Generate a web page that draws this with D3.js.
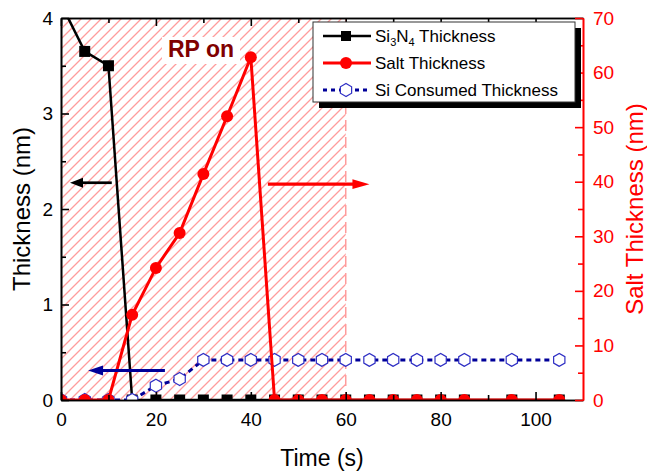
<!DOCTYPE html>
<html>
<head>
<meta charset="utf-8">
<script src="https://cdn.jsdelivr.net/npm/d3@7"></script>
<style>
  body { margin: 0; background: #fff; }
  svg text { font-family: "Liberation Sans", Arial, sans-serif; }
</style>
</head>
<body>
<svg id="chart" width="647" height="474"></svg>
<script>
// Sampling times (s)
const time = [0, 5, 10, 15, 20, 25, 30, 35, 40, 45, 50, 55, 60, 65, 70, 75, 80, 85, 95, 105];
// Si3N4 thickness (nm), left axis
const si3n4 = [4.15, 3.65, 3.5, 0, 0, 0, 0, 0, 0, 0, 0, 0, 0, 0, 0, 0, 0, 0, 0, 0];
// Salt thickness (nm), right axis
const salt = [0, 0, 0, 15.6, 24.2, 30.6, 41.4, 52, 62.8, 0, 0, 0, 0, 0, 0, 0, 0, 0, 0, 0];
// Si consumed thickness (nm), left axis
const siConsumed = [0, 0, 0, 0, 0.15, 0.22, 0.42, 0.42, 0.42, 0.42, 0.42, 0.42, 0.42, 0.42, 0.42, 0.42, 0.42, 0.42, 0.42, 0.42];

const xTicks = [0, 20, 40, 60, 80, 100];
const yLeftTicks = [0, 1, 2, 3, 4];
const yRightTicks = [0, 10, 20, 30, 40, 50, 60, 70];
const rpWindow = [0, 60];   // remote plasma on interval (s)

const legendItems = [
  { key: "si3n4", label: ["Si", "3", "N", "4", " Thickness"] },
  { key: "salt", label: ["Salt Thickness"] },
  { key: "si", label: ["Si Consumed Thickness"] }
];

const L = 61, R = 583, T = 18, B = 400;
const svg = d3.select("#chart");

const x = d3.scaleLinear().domain([0, 110]).range([L, R]);
const yL = d3.scaleLinear().domain([0, 4]).range([B, T]);
const yR = d3.scaleLinear().domain([0, 70]).range([B, T]);

const RED = "#ff0000", BLUE = "#000099", HEX = "#2f2fc4", HATCH = "#ff9c9c";

// diagonal hatch for the plasma-on window
const defs = svg.append("defs");
const pat = defs.append("pattern").attr("id", "hatch")
  .attr("patternUnits", "userSpaceOnUse").attr("width", 10).attr("height", 10);
pat.append("path")
  .attr("d", "M0,10 L10,0 M-2.5,2.5 L2.5,-2.5 M7.5,12.5 L12.5,7.5")
  .attr("stroke", HATCH).attr("stroke-width", 1.3);
defs.append("clipPath").attr("id", "plot")
  .append("rect").attr("x", L).attr("y", T).attr("width", R - L).attr("height", B - T);

svg.append("rect")
  .attr("x", x(rpWindow[0])).attr("y", T)
  .attr("width", x(rpWindow[1]) - x(rpWindow[0])).attr("height", B - T)
  .attr("fill", "url(#hatch)");
svg.append("line")
  .attr("x1", x(rpWindow[1])).attr("x2", x(rpWindow[1]))
  .attr("y1", T).attr("y2", B)
  .attr("stroke", HATCH).attr("stroke-width", 1.5).attr("stroke-dasharray", "11,6");

// "RP on" label on a white patch
svg.append("rect").attr("x", 162).attr("y", 37).attr("width", 78).attr("height", 27).attr("fill", "#fff");
svg.append("text").attr("x", 201).attr("y", 57).attr("text-anchor", "middle")
  .attr("font-size", 23).attr("font-weight", "bold").attr("fill", "#800000").text("RP on");

const plot = svg.append("g").attr("clip-path", "url(#plot)");

const hexPath = (r) => {
  const pts = d3.range(6).map(i => {
    const a = Math.PI / 2 + i * Math.PI / 3;
    return [r * Math.cos(a), r * Math.sin(a)];
  });
  return "M" + pts.map(p => p.join(",")).join("L") + "Z";
};

// Si3N4
plot.append("path").datum(time.map((t, i) => [t, si3n4[i]]))
  .attr("fill", "none").attr("stroke", "#000").attr("stroke-width", 2.5)
  .attr("d", d3.line().x(d => x(d[0])).y(d => yL(d[1])));
plot.selectAll(".sq").data(time.map((t, i) => [t, si3n4[i]])).join("rect")
  .attr("x", d => x(d[0]) - 5.5).attr("y", d => yL(d[1]) - 5.5)
  .attr("width", 11).attr("height", 11).attr("fill", "#000");

// Si consumed
plot.append("path").datum(time.map((t, i) => [t, siConsumed[i]]))
  .attr("fill", "none").attr("stroke", BLUE).attr("stroke-width", 3)
  .attr("stroke-dasharray", "5,4")
  .attr("d", d3.line().x(d => x(d[0])).y(d => yL(d[1])));
plot.selectAll(".hx").data(time.map((t, i) => [t, siConsumed[i]])).join("path")
  .attr("transform", d => `translate(${x(d[0])},${yL(d[1])})`)
  .attr("d", hexPath(6.5)).attr("fill", "#fff").attr("stroke", HEX).attr("stroke-width", 1.2);

// Salt
plot.append("path").datum(time.map((t, i) => [t, salt[i]]))
  .attr("fill", "none").attr("stroke", RED).attr("stroke-width", 3)
  .attr("d", d3.line().x(d => x(d[0])).y(d => yR(d[1])));
plot.selectAll(".ci").data(time.map((t, i) => [t, salt[i]])).join("circle")
  .attr("cx", d => x(d[0])).attr("cy", d => yR(d[1])).attr("r", 6).attr("fill", RED);

// arrows pointing to the axis each series belongs to
function arrow(x1, x2, yy, color, w, headLen, headHalf) {
  const dir = Math.sign(x2 - x1);
  svg.append("line").attr("x1", x1).attr("x2", x2 - dir * headLen * 0.8)
    .attr("y1", yy).attr("y2", yy).attr("stroke", color).attr("stroke-width", w);
  svg.append("path")
    .attr("d", `M${x2},${yy} L${x2 - dir * headLen},${yy - headHalf} L${x2 - dir * headLen},${yy + headHalf} Z`)
    .attr("fill", color);
}
arrow(x(10.7), x(1.9), yL(2.275), "#000", 2.7, 13, 5);
arrow(x(43.6), x(65), yL(2.26), RED, 3.2, 17, 4.8);
arrow(x(21.9), x(5.7), yL(0.31), BLUE, 3, 15, 5);

// axes
function styleAxis(g, color) {
  g.selectAll("path").attr("stroke", color).attr("stroke-width", 1.6);
  g.selectAll("line").attr("stroke", color).attr("stroke-width", 1.6);
  g.selectAll("text").attr("fill", color).attr("font-size", 19)
    .attr("font-family", "'Liberation Sans', Arial, sans-serif");
}
const minorX = d3.range(10, 110, 20);
const minorYL = d3.range(0.5, 4, 1);
const minorYR = d3.range(5, 70, 10);

// bottom
svg.append("g").attr("transform", `translate(0,${B})`)
  .call(d3.axisBottom(x).tickValues(xTicks).tickSize(-8).tickSizeOuter(0).tickPadding(13))
  .call(g => styleAxis(g, "#000"));
svg.append("g").attr("transform", `translate(0,${B})`)
  .call(d3.axisBottom(x).tickValues(minorX).tickSize(-5).tickSizeOuter(0).tickFormat(""))
  .call(g => styleAxis(g, "#000"));
// top
svg.append("g").attr("transform", `translate(0,${T})`)
  .call(d3.axisTop(x).tickValues(xTicks).tickSize(-8).tickSizeOuter(0).tickFormat(""))
  .call(g => styleAxis(g, "#000"));
svg.append("g").attr("transform", `translate(0,${T})`)
  .call(d3.axisTop(x).tickValues(minorX).tickSize(-5).tickSizeOuter(0).tickFormat(""))
  .call(g => styleAxis(g, "#000"));
// left
svg.append("g").attr("transform", `translate(${L},0)`)
  .call(d3.axisLeft(yL).tickValues(yLeftTicks).tickSize(-8).tickSizeOuter(0).tickPadding(8).tickFormat(d3.format("d")))
  .call(g => styleAxis(g, "#000"));
svg.append("g").attr("transform", `translate(${L},0)`)
  .call(d3.axisLeft(yL).tickValues(minorYL).tickSize(-5).tickSizeOuter(0).tickFormat(""))
  .call(g => styleAxis(g, "#000"));
// right
svg.append("g").attr("transform", `translate(${R},0)`)
  .call(d3.axisRight(yR).tickValues(yRightTicks).tickSize(-8).tickSizeOuter(0).tickPadding(10))
  .call(g => styleAxis(g, RED));
svg.append("g").attr("transform", `translate(${R},0)`)
  .call(d3.axisRight(yR).tickValues(minorYR).tickSize(-5).tickSizeOuter(0).tickFormat(""))
  .call(g => styleAxis(g, RED));

// axis titles
svg.append("text").attr("x", (L + R) / 2).attr("y", 466).attr("text-anchor", "middle")
  .attr("font-size", 23).attr("fill", "#000").text("Time (s)");
svg.append("text").attr("transform", `translate(30,${(T + B) / 2}) rotate(-90)`)
  .attr("text-anchor", "middle").attr("font-size", 24).attr("fill", "#000").text("Thickness (nm)");
svg.append("text").attr("transform", `translate(643,${(T + B) / 2}) rotate(-90)`)
  .attr("text-anchor", "middle").attr("font-size", 24).attr("fill", RED).text("Salt Thickness (nm)");

// legend
const lg = svg.append("g");
lg.append("rect").attr("x", 319).attr("y", 28).attr("width", 262).attr("height", 80).attr("fill", "#000");
lg.append("rect").attr("x", 313).attr("y", 22).attr("width", 262).attr("height", 80)
  .attr("fill", "#fff").attr("stroke", "#333").attr("stroke-width", 1);
legendItems.forEach((it, i) => {
  const yy = 36 + i * 27;
  const row = lg.append("g");
  if (it.key === "si3n4") {
    row.append("line").attr("x1", 323).attr("x2", 371).attr("y1", yy).attr("y2", yy)
      .attr("stroke", "#000").attr("stroke-width", 2.5);
    row.append("rect").attr("x", 341).attr("y", yy - 5).attr("width", 10).attr("height", 10).attr("fill", "#000");
  } else if (it.key === "salt") {
    row.append("line").attr("x1", 323).attr("x2", 371).attr("y1", yy).attr("y2", yy)
      .attr("stroke", RED).attr("stroke-width", 3);
    row.append("circle").attr("cx", 346).attr("cy", yy).attr("r", 6).attr("fill", RED);
  } else {
    row.append("line").attr("x1", 323).attr("x2", 371).attr("y1", yy).attr("y2", yy)
      .attr("stroke", BLUE).attr("stroke-width", 3).attr("stroke-dasharray", "4,4");
    row.append("path").attr("transform", `translate(346,${yy})`).attr("d", hexPath(6.5))
      .attr("fill", "#fff").attr("stroke", HEX).attr("stroke-width", 1.2);
  }
  const tx = row.append("text").attr("x", 375).attr("y", yy + 6).attr("font-size", 17).attr("fill", "#000");
  if (it.label.length > 1) {
    tx.append("tspan").text(it.label[0]);
    tx.append("tspan").attr("font-size", 11).attr("dy", 4).text(it.label[1]);
    tx.append("tspan").attr("dy", -4).text(it.label[2]);
    tx.append("tspan").attr("font-size", 11).attr("dy", 4).text(it.label[3]);
    tx.append("tspan").attr("dy", -4).text(it.label[4]);
  } else {
    tx.text(it.label[0]);
  }
});
</script>
</body>
</html>
